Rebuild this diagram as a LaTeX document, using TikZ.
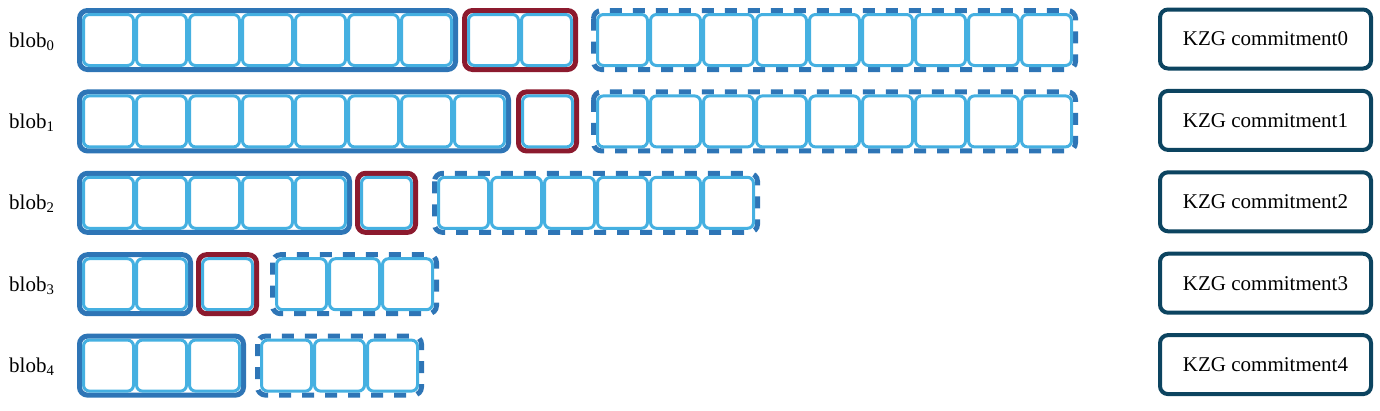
\documentclass[tikz,border=0pt]{standalone}
\usepackage{fontspec}
\setmainfont{Liberation Serif}
\usepackage{tikz}
\usetikzlibrary{positioning}
\definecolor{blobBlue}{RGB}{46, 117, 182}
\definecolor{cellBlue}{RGB}{69, 176, 225}
\definecolor{blobRed}{RGB}{140, 26, 46}
\definecolor{kzgTeal}{RGB}{12, 68, 96}

% n cells from a left edge: #1 left edge, #2 count, #3 y, #4 name
\newcommand{\cellrun}[4]{%
    \foreach \k in {1,...,#2}
        \node[cellbox] (#4-\k) at ({#1+53*\k-26.5}, #3) {};}
% frame round a run of cells: #1 style, #2 left edge, #3 count, #4 y
\newcommand{\runframe}[4]{%
    \draw[#1] ({#2-2.5}, {#4-29.5}) rectangle ({#2+53*#3+2.5}, {#4+29.5});}

\begin{document}
\begin{tikzpicture}[x=1pt, y=-1pt,
    cellbox/.style={draw=cellBlue, fill=white, line width=3pt, rounded corners=6pt,
        minimum width=50pt, minimum height=51pt, inner sep=0pt},
    fullframe/.style={draw=blobBlue, line width=5pt, rounded corners=8pt},
    padframe/.style={draw=blobRed, line width=5pt, rounded corners=8pt},
    freeframe/.style={draw=blobBlue, line width=5pt, rounded corners=8pt,
        dash pattern=on 12pt off 11pt},
    kzgbox/.style={draw=kzgTeal, line width=4pt, rounded corners=8pt,
        minimum width=211pt, minimum height=59pt, inner sep=0pt},
    bigtext/.style={font=\fontsize{21}{25}\selectfont}]
    \useasboundingbox (0, 0) rectangle (1380, 410);

    % Blobs: used cells, padding cells, free cells
    \foreach \r/\na/\xr/\nr/\xd/\nd in
        {0/7/462/2/591/9, 1/8/516/1/591/9, 2/5/355/1/432/6, 3/2/196/1/270/3, 4/3/0/0/255/3} {
        \pgfmathsetmacro\yc{40+81.4*\r}
        \node[bigtext, anchor=base west, inner sep=0pt] (blob\r) at (9, \yc+7)
            {blob\textsubscript{\r}};

        \runframe{fullframe}{82}{\na}{\yc}
        \cellrun{82}{\na}{\yc}{used\r}
        \ifnum\nr>0
            \runframe{padframe}{\xr+5}{\nr}{\yc}
            \cellrun{\xr+5}{\nr}{\yc}{pad\r}
        \fi
        \runframe{freeframe}{\xd+5}{\nd}{\yc}
        \cellrun{\xd+5}{\nd}{\yc}{free\r}

        % Commitment
        \node[kzgbox, bigtext] (kzg\r) at (1265.5, \yc-1) {KZG commitment\r};
    }
\end{tikzpicture}
\end{document}
